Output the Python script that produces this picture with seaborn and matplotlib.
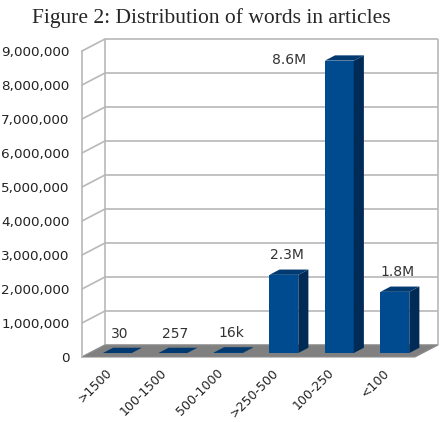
import numpy as np
import seaborn as sns
import matplotlib.pyplot as plt
from matplotlib.patches import Polygon

# datos
categories = [">1500", "100-1500", "500-1000", ">250-500", "100-250", "<100"]
words = [30, 257, 16000, 2300000, 8600000, 1800000]
y_ticks = [0, 1000000, 2000000, 3000000, 4000000, 5000000, 6000000, 7000000, 8000000, 9000000]


def short_label(v):
    if v >= 1e6:
        return f"{v / 1e6:.1f}M"
    if v >= 1e3:
        return f"{v / 1e3:.0f}k"
    return str(v)


sns.set_style("white")
plt.rcParams["font.family"] = ["DejaVu Sans"]

W, H = 443, 422
fig = plt.figure(figsize=(W / 100, H / 100), dpi=100)
# plano frontal del gráfico 3D
ax = fig.add_axes([82 / W, 65 / H, 333 / W, 306 / H])

front_c = "#004a8f"
side_c = "#002b56"
top_c = "#003a70"
grid_c = "#b8b8b8"

sns.barplot(x=categories, y=words, color=front_c, width=0.52, saturation=1,
            errorbar=None, ax=ax, zorder=2)
bars = list(ax.patches)

x0, x1 = -0.5, 5.5
ymax = y_ticks[-1]
ax.set_xlim(x0, x1)
ax.set_ylim(0, ymax)

# vector de profundidad (23 px a la derecha, 12 px hacia arriba) en unidades de datos
ddx = 23 * 6 / 333
ddy = 12 * 9000000 / 306

# pared del fondo
ax.hlines([t + ddy for t in y_ticks], x0 + ddx, x1 + ddx, color=grid_c, lw=1.2,
          clip_on=False, zorder=0)
ax.vlines([x0 + ddx, x1 + ddx], ddy, ymax + ddy, color=grid_c, lw=1.2,
          clip_on=False, zorder=0)
# pared izquierda
for t in y_ticks:
    ax.plot([x0, x0 + ddx], [t, t + ddy], color=grid_c, lw=1.2, clip_on=False, zorder=0)

# suelo
floor = Polygon([(x0, 0), (x1, 0), (x1 + ddx, ddy), (x0 + ddx, ddy)],
                closed=True, facecolor="#808080", edgecolor="#8c8c8c", lw=0.8,
                clip_on=False, zorder=1)
ax.add_patch(floor)

f0, f1 = 0.33, 0.77  # profundidad de las barras
sx, sy = (f1 - f0) * ddx, (f1 - f0) * ddy
label_off = 22 * 9000000 / 306

for p, v in zip(bars, words):
    p.set_x(p.get_x() + f0 * ddx)
    p.set_y(f0 * ddy)
    p.set_edgecolor("none")
    p.set_clip_on(False)
    bx, bw, bh = p.get_x(), p.get_width(), p.get_height()
    by = p.get_y()
    top = by + bh
    side = Polygon([(bx + bw, by), (bx + bw + sx, by + sy), (bx + bw + sx, top + sy),
                    (bx + bw, top)], closed=True, facecolor=side_c, edgecolor="none",
                   clip_on=False, zorder=3)
    cap = Polygon([(bx, top), (bx + bw, top), (bx + bw + sx, top + sy), (bx + sx, top + sy)],
                  closed=True, facecolor=top_c, edgecolor="none", clip_on=False, zorder=3)
    ax.add_patch(side)
    ax.add_patch(cap)
    cx = bx + bw / 2
    if top + label_off > ymax:
        ax.annotate(short_label(v), (cx, top), xytext=(-36, 0.5), textcoords="offset points",
                    ha="center", va="center", fontsize=10, color="#333333")
    else:
        ax.annotate(short_label(v), (cx, top), xytext=(2, 14), textcoords="offset points",
                    ha="center", va="center", fontsize=10, color="#333333")

ax.set_yticks(y_ticks)
ax.set_yticklabels([f"{t:,}" for t in y_ticks], fontsize=9.7, color="#222222")
ax.set_xticks(range(len(categories)))
ax.set_xticklabels(categories, rotation=45, ha="right", va="center",
                   rotation_mode="anchor", fontsize=9, color="#222222")
ax.tick_params(axis="y", length=0, pad=9)
ax.tick_params(axis="x", length=0, pad=10)
ax.set_xlabel("")
ax.set_ylabel("")
for s in ["top", "right", "bottom"]:
    ax.spines[s].set_visible(False)
ax.spines["left"].set_color(grid_c)
ax.spines["left"].set_linewidth(1.2)
ax.set_facecolor("none")

fig.text(211 / W, 1 - 18 / H, "Figure 2: Distribution of words in articles",
         ha="center", va="center", fontsize=15.5, family="Liberation Serif")

fig.savefig("out.png", dpi=100)
